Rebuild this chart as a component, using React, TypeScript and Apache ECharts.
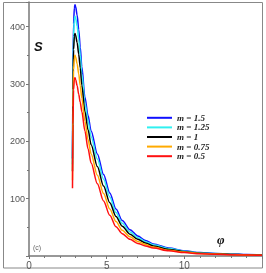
import React, { useEffect, useRef } from "react";
import * as echarts from "echarts";

const phi = [2.8, 2.83, 2.87, 2.92, 2.96, 3.0, 3.1, 3.2, 3.3, 3.4, 3.6, 3.8, 4.0, 4.4, 4.8, 5.2, 5.6, 6.0, 6.5, 7.0, 7.5, 8.0, 9, 10, 11, 12, 13, 14, 15];
const sM15 = [170, 330, 405, 433, 438, 435, 420, 395, 364, 330, 277, 245, 218, 178, 142, 110, 82, 62, 46, 35, 27, 21, 14, 9, 6, 4.5, 3.5, 2.5, 2];
const sM125 = [160, 312, 385, 412, 418, 415, 401, 378, 350, 318, 267, 235, 208, 169, 134, 103, 76, 57, 42, 32, 25, 19.5, 13, 8.5, 5.5, 4.2, 3.2, 2.3, 1.8];
const sM1 = [148, 290, 360, 383, 388, 385, 372, 352, 328, 298, 252, 220, 194, 156, 122, 93, 69, 52, 38, 29, 22.5, 17.5, 11.5, 7.5, 5, 3.8, 2.8, 2.1, 1.6];
const sM075 = [132, 260, 325, 345, 350, 347, 335, 318, 297, 275, 235, 203, 178, 141, 109, 82, 60, 45, 33.5, 25.5, 20, 15.5, 10, 6.8, 4.5, 3.4, 2.5, 1.9, 1.4];
const sM05 = [118, 230, 290, 308, 311, 308, 297, 282, 268, 252, 218, 187, 162, 126, 96, 71, 51, 39, 29, 22, 17.5, 14, 9, 6, 4, 3, 2.2, 1.6, 1.2];

const seriesNames = ["m = 1.5", "m = 1.25", "m = 1", "m = 0.75", "m = 0.5"];
const seriesData = [sM15, sM125, sM1, sM075, sM05];
const seriesColors = ["#1010ff", "#30f0f0", "#000000", "#ffaa00", "#ff1010"];

export default function App() {
  const ref = useRef<HTMLDivElement>(null);
  useEffect(() => {
    if (!ref.current) return;
    const chart = echarts.init(ref.current, undefined, { renderer: "svg" });
    chart.setOption({
      animation: false,
      grid: { left: 29, right: 4, top: 2, bottom: 17 },
      xAxis: {
        type: "value",
        min: 0,
        max: 15,
        interval: 5,
        splitLine: { show: false },
        axisLine: { show: true, lineStyle: { color: "#777", width: 1.5 } },
        axisTick: { show: true, length: 3, lineStyle: { color: "#777" } },
        minorTick: { show: true, splitNumber: 5, length: 2, lineStyle: { color: "#777" } },
        axisLabel: { showMaxLabel: false, color: "#555", fontSize: 10, margin: 4, fontFamily: "Liberation Sans" },
      },
      yAxis: {
        type: "value",
        min: 0,
        max: 443,
        interval: 100,
        splitLine: { show: false },
        axisLine: { show: true, lineStyle: { color: "#777", width: 1.5 } },
        axisTick: { show: true, length: 3, lineStyle: { color: "#777" } },
        minorTick: { show: true, splitNumber: 2, length: 2, lineStyle: { color: "#777" } },
        axisLabel: { showMinLabel: false, showMaxLabel: false, color: "#555", fontSize: 9, margin: 4, fontFamily: "Liberation Sans" },
      },
      legend: {
        orient: "vertical",
        left: 142,
        top: 108,
        icon: "rect",
        itemWidth: 25,
        itemHeight: 2,
        itemGap: 0,
        textStyle: {
          fontFamily: "Liberation Serif",
          fontStyle: "italic",
          fontWeight: "bold",
          fontSize: 9,
          lineHeight: 9.6,
          color: "#222",
          padding: [0, 0, 0, 0],
        },
        data: seriesNames,
      },
      graphic: [
        { type: "rect", shape: { x: 3.5, y: 2.5, width: 259, height: 265.5 }, style: { fill: "none", stroke: "#888", lineWidth: 1 }, silent: true },
        { type: "text", x: 34, y: 40, style: { text: "S", font: "italic bold 13px 'Liberation Sans'", fill: "#111" } },
        { type: "text", x: 217, y: 233, style: { text: "φ", font: "italic bold 13px 'Liberation Serif'", fill: "#111" } },
        { type: "text", x: 33, y: 244, style: { text: "(c)", font: "7px 'Liberation Sans'", fill: "#666" } },
      ],
      series: seriesNames.map((name, i) => ({
        name,
        type: "line",
        data: phi.map((x, j) => [x, seriesData[i][j]]),
        showSymbol: false,
        smooth: 0.3,
        smoothMonotone: "x",
        lineStyle: { color: seriesColors[i], width: 1.5 },
        itemStyle: { color: seriesColors[i] },
      })),
    });
    return () => chart.dispose();
  }, []);
  return <div ref={ref} style={{ position: "fixed", left: 0, top: 0, width: 266, height: 273 }} />;
}
